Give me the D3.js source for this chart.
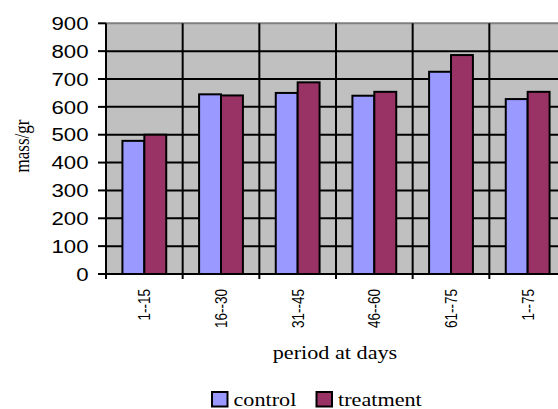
<!DOCTYPE html>
<html><head><meta charset="utf-8">
<script src="https://cdn.jsdelivr.net/npm/d3@7"></script>
<style>body{margin:0;background:#fff}</style>
</head><body>
<svg id="c" width="558" height="409"></svg>
<script>
const categories = ["1--15","16--30","31--45","46--60","61--75","1--75"];
const seriesNames = ["control","treatment"];
const control = [478, 645, 650, 640, 726, 628];
const treatment = [500, 641, 688, 654, 786, 654];
const yTicks = [0,100,200,300,400,500,600,700,800,900];
const colors = {control:"#9999FF", treatment:"#993366"};
const SX = 1.2; // horizontal stretch of the original rendering

const svg = d3.select("#c");
const pLeft = 106, pRight = 566, pTop = 23.3, pBottom = 274;
const x = d3.scaleBand().domain(categories).range([pLeft, pRight]).padding(0);
const xs = d3.scaleBand().domain(seriesNames).range([0, x.bandwidth()]).paddingInner(0).paddingOuter(0.75);
const y = d3.scaleLinear().domain([0, 900]).range([pBottom, pTop]);

const data = categories.map((c,i)=>({cat:c, control:control[i], treatment:treatment[i]}));

svg.append("rect").attr("x", pLeft).attr("y", pTop).attr("width", pRight-pLeft).attr("height", pBottom-pTop).attr("fill", "#C0C0C0");

// horizontal gridlines
svg.append("g").selectAll("line").data(yTicks.filter(t=>t>0 && t<900)).join("line")
  .attr("x1", pLeft).attr("x2", pRight).attr("y1", d=>y(d)).attr("y2", d=>y(d))
  .attr("stroke", "#000").attr("stroke-width", 2);
// top border
svg.append("line").attr("x1", pLeft).attr("x2", pRight).attr("y1", y(900)).attr("y2", y(900))
  .attr("stroke", "#808080").attr("stroke-width", 2);
// vertical gridlines at category boundaries
svg.append("g").selectAll("line").data(categories.slice(1)).join("line")
  .attr("x1", d=>x(d)).attr("x2", d=>x(d)).attr("y1", pTop).attr("y2", pBottom+5)
  .attr("stroke", "#000").attr("stroke-width", 2);

// bars
const g = svg.append("g").selectAll("g").data(data).join("g").attr("transform", d=>`translate(${x(d.cat)},0)`);
g.selectAll("rect").data(d=>seriesNames.map(s=>({s, v:d[s]}))).join("rect")
  .attr("x", d=>xs(d.s)).attr("width", xs.bandwidth())
  .attr("y", d=>y(d.v)).attr("height", d=>y(0)-y(d.v))
  .attr("fill", d=>colors[d.s]).attr("stroke", "#000").attr("stroke-width", 2);

// axes
svg.append("line").attr("x1", pLeft).attr("x2", pLeft).attr("y1", pTop).attr("y2", pBottom+5).attr("stroke","#000").attr("stroke-width",2);
svg.append("line").attr("x1", pLeft-8).attr("x2", pRight).attr("y1", pBottom).attr("y2", pBottom).attr("stroke","#000").attr("stroke-width",2);
svg.append("g").selectAll("line").data(yTicks).join("line")
  .attr("x1", pLeft-8).attr("x2", pLeft).attr("y1", d=>y(d)).attr("y2", d=>y(d)).attr("stroke","#000").attr("stroke-width",2);

// y tick labels
svg.append("g").selectAll("text").data(yTicks).join("text")
  .attr("transform", d=>`translate(88.5,${y(d)}) scale(${SX},1)`)
  .attr("dy", "0.36em").attr("text-anchor", "end")
  .attr("font-family", "Liberation Sans, Arial, sans-serif").attr("font-size", 18.5)
  .text(d=>d);

// x tick labels
svg.append("g").selectAll("text").data(categories).join("text")
  .attr("transform", d=>`translate(${x(d)+x.bandwidth()/2},289) scale(${SX},1) rotate(-90)`)
  .attr("dy", "0.36em").attr("text-anchor", "end")
  .attr("font-family", "Liberation Sans, Arial, sans-serif").attr("font-size", 13.5)
  .text(d=>d);

// axis titles
svg.append("text").attr("transform", `translate(29,146) scale(${SX},1) rotate(-90)`)
  .attr("text-anchor", "middle").attr("font-family", "Liberation Serif, Times New Roman, serif").attr("font-size", 17)
  .text("mass/gr");
svg.append("text").attr("transform", `translate(335,359) scale(${SX},1)`)
  .attr("text-anchor", "middle").attr("font-family", "Liberation Serif, Times New Roman, serif").attr("font-size", 18.5)
  .text("period at days");

// legend
const legX = [212, 316.5];
const lg = svg.append("g").selectAll("g").data(seriesNames).join("g").attr("transform", (d,i)=>`translate(${legX[i]},392)`);
lg.append("rect").attr("width", 15.5).attr("height", 14.5).attr("fill", d=>colors[d]).attr("stroke","#000").attr("stroke-width",2);
lg.append("text").attr("transform", `translate(21.5,13.5) scale(${SX},1)`)
  .attr("font-family", "Liberation Serif, Times New Roman, serif").attr("font-size", 18.5)
  .text(d=>d);
</script>
</body></html>
